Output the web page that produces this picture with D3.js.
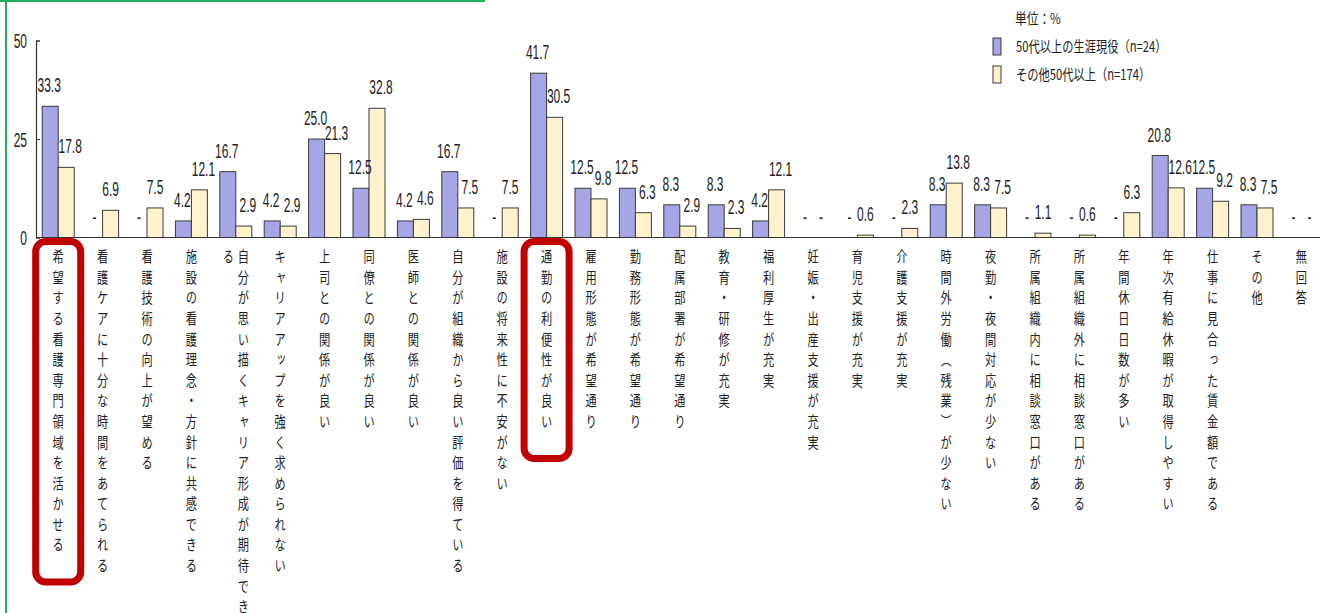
<!DOCTYPE html>
<html>
<head>
<meta charset="utf-8">
<script src="https://cdn.jsdelivr.net/npm/d3@7/dist/d3.min.js"></script>
<style>
  html, body { margin: 0; padding: 0; background: #fff; }
  svg { display: block; }
</style>
</head>
<body>
<svg id="chart" width="1320" height="613"></svg>
<script>
const categories = [
  "希望する看護専門領域を活かせる",
  "看護ケアに十分な時間をあてられる",
  "看護技術の向上が望める",
  "施設の看護理念・方針に共感できる",
  "自分が思い描くキャリア形成が期待できる",
  "キャリアアップを強く求められない",
  "上司との関係が良い",
  "同僚との関係が良い",
  "医師との関係が良い",
  "自分が組織から良い評価を得ている",
  "施設の将来性に不安がない",
  "通勤の利便性が良い",
  "雇用形態が希望通り",
  "勤務形態が希望通り",
  "配属部署が希望通り",
  "教育・研修が充実",
  "福利厚生が充実",
  "妊娠・出産支援が充実",
  "育児支援が充実",
  "介護支援が充実",
  "時間外労働（残業）が少ない",
  "夜勤・夜間対応が少ない",
  "所属組織内に相談窓口がある",
  "所属組織外に相談窓口がある",
  "年間休日日数が多い",
  "年次有給休暇が取得しやすい",
  "仕事に見合った賃金額である",
  "その他",
  "無回答"
];
const seriesNames = ["50代以上の生涯現役（n=24）", "その他50代以上（n=174）"];
const lifetimeActive = [33.3, 0, 0, 4.2, 16.7, 4.2, 25.0, 12.5, 4.2, 16.7, 0, 41.7, 12.5, 12.5, 8.3, 8.3, 4.2, 0, 0, 0, 8.3, 8.3, 0, 0, 0, 20.8, 12.5, 8.3, 0];
const otherFifties   = [17.8, 6.9, 7.5, 12.1, 2.9, 2.9, 21.3, 32.8, 4.6, 7.5, 7.5, 30.5, 9.8, 6.3, 2.9, 2.3, 12.1, 0, 0.6, 2.3, 13.8, 7.5, 1.1, 0.6, 6.3, 12.6, 9.2, 7.5, 0];
const yTicks = [0, 25, 50];
const highlighted = ["希望する看護専門領域を活かせる", "通勤の利便性が良い"];
const unitLabel = "単位：%";

const colors = ["#a6a6e6", "#fff2cc"];
const numFont = "'Liberation Sans', Arial, sans-serif";
const cjkFont = "'Noto Sans CJK JP', 'Noto Sans', sans-serif";

const svg = d3.select("#chart");

// decorative green frame (part of the screenshot)
svg.append("line").attr("x1", 0).attr("x2", 485).attr("y1", 1).attr("y2", 1)
  .attr("stroke", "#1db055").attr("stroke-width", 2);
svg.append("line").attr("x1", 6).attr("x2", 6).attr("y1", 0).attr("y2", 613)
  .attr("stroke", "#1db055").attr("stroke-width", 2);

const axisX = 36;
const x0 = d3.scaleBand().domain(categories).range([axisX, axisX + 29 * 44.4]).padding(0);
const barW = 16;
const x1 = d3.scaleBand().domain(seriesNames)
  .range([x0.bandwidth() / 2 - barW, x0.bandwidth() / 2 + barW]).padding(0);
const y = d3.scaleLinear().domain([0, 50]).range([237.5, 40.5]);

const rows = categories.map((c, i) => ({ cat: c, vals: [lifetimeActive[i], otherFifties[i]] }));

// bars
const g = svg.append("g");
const groups = g.selectAll("g.cat").data(rows).join("g")
  .attr("class", "cat")
  .attr("transform", d => `translate(${x0(d.cat)},0)`);

groups.selectAll("rect").data(d => d.vals.map((v, k) => ({ v, k })))
  .join("rect")
  .filter(d => d.v > 0)
  .attr("x", d => x1(seriesNames[d.k]))
  .attr("width", x1.bandwidth())
  .attr("y", d => y(d.v))
  .attr("height", d => y(0) - y(d.v))
  .attr("fill", d => colors[d.k])
  .attr("stroke", "#3a3a3a")
  .attr("stroke-width", 1);

// value labels
groups.selectAll("text.val").data(d => d.vals.map((v, k) => ({ v, k, other: d.vals[1 - k] })))
  .join("text")
  .attr("class", "val")
  .attr("transform", d => {
    let shift = 0;
    if (d.v > 0 && d.other > 0) shift = d.k === 1 ? 4 : -1;
    return `translate(${x1(seriesNames[d.k]) + x1.bandwidth() / 2 + shift},${y(d.v) - 14}) scale(0.6,1)`;
  })
  .attr("text-anchor", "middle")
  .attr("font-family", numFont)
  .attr("font-size", 20)
  .attr("fill", "#222")
  .text(d => d.v === 0 ? "-" : d.v.toFixed(1));

// baseline
svg.append("line")
  .attr("x1", axisX).attr("x2", 1320)
  .attr("y1", y(0)).attr("y2", y(0))
  .attr("stroke", "#333").attr("stroke-width", 1.2);

// y axis
const yAxis = svg.append("g").attr("transform", `translate(${axisX},0)`)
  .call(d3.axisLeft(y).tickValues(yTicks).tickSize(-4).tickPadding(9).tickFormat(d3.format("d")));
yAxis.select(".domain").attr("stroke", "#333").attr("stroke-width", 1.2);
yAxis.selectAll(".tick line").attr("stroke", "#333");
yAxis.selectAll(".tick text")
  .attr("font-family", numFont)
  .attr("font-size", 20)
  .attr("fill", "#222")
  .attr("dy", "0.36em")
  .attr("transform", "scale(0.6,1)")
  .attr("x", -15);

// category labels (vertical)
const labelTop = 249;
const pitch = 20.6;
const maxChars = 18;
const labelsG = svg.append("g");
rows.forEach(d => {
  const chars = Array.from(d.cat);
  const cols = [];
  for (let i = 0; i < chars.length; i += maxChars) cols.push(chars.slice(i, i + maxChars).join(""));
  const cx = x0(d.cat) + x0.bandwidth() / 2;
  const n = cols.length;
  cols.forEach((colText, ci) => {
    const offset = (n - 1) / 2 * 15 - ci * 15;
    labelsG.append("text")
      .attr("transform", `translate(${cx + offset},${labelTop}) scale(0.75,1)`)
      .attr("writing-mode", "vertical-rl")
      .style("writing-mode", "vertical-rl")
      .attr("font-family", cjkFont)
      .attr("font-size", 15)
      .attr("letter-spacing", pitch - 15)
      .attr("fill", "#222")
      .text(colText);
  });
});

// highlight boxes
highlighted.forEach(cat => {
  const cx = x0(cat) + x0.bandwidth() / 2;
  const n = Array.from(cat).length;
  svg.append("rect")
    .attr("x", cx - 22.5)
    .attr("y", 241.5)
    .attr("width", 45)
    .attr("height", labelTop + n * pitch + 24 - 241.5)
    .attr("rx", 10).attr("ry", 10)
    .attr("fill", "none")
    .attr("stroke", "#c00000")
    .attr("stroke-width", 7);
});

// legend
const legend = svg.append("g");
legend.append("text")
  .attr("transform", "translate(1015,24) scale(0.78,1)")
  .attr("font-family", cjkFont)
  .attr("font-size", 15)
  .attr("fill", "#222")
  .text(unitLabel);
seriesNames.forEach((name, k) => {
  const yy = 38 + k * 28;
  legend.append("rect")
    .attr("x", 993).attr("y", yy).attr("width", 8).attr("height", 17)
    .attr("fill", colors[k]).attr("stroke", "#3a3a3a").attr("stroke-width", 1);
  legend.append("text")
    .attr("transform", `translate(1016,${yy + 14}) scale(0.75,1)`)
    .attr("font-family", cjkFont)
    .attr("font-size", 15)
    .attr("fill", "#222")
    .text(name);
});
</script>
</body>
</html>
